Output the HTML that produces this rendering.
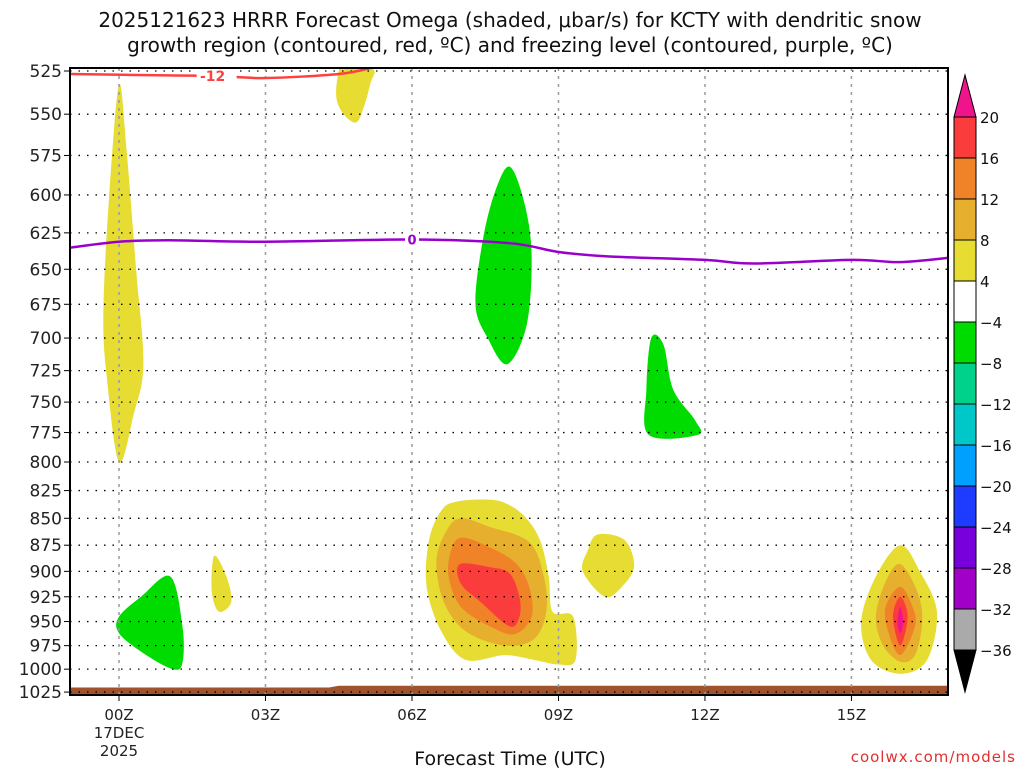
<!DOCTYPE html>
<html><head><meta charset="utf-8"><style>
body{margin:0;background:#fff;}
svg{display:block;font-family:"DejaVu Sans","Liberation Sans",sans-serif;}
</style></head><body>
<svg id="chart" width="1024" height="768" viewBox="0 0 1024 768" xmlns="http://www.w3.org/2000/svg">
<text x="510" y="27" font-size="20" text-anchor="middle" fill="#111">2025121623 HRRR Forecast Omega (shaded, μbar/s) for KCTY with dendritic snow</text>
<text x="510" y="52" font-size="20" text-anchor="middle" fill="#111">growth region (contoured, red, ºC) and freezing level (contoured, purple, ºC)</text>
<g id="fills"></g>
<g id="grid"></g>
<g id="lines"></g>
<g id="axes"></g>
<g id="cbar"></g>
<text x="510" y="765" font-size="19" text-anchor="middle" fill="#111">Forecast Time (UTC)</text>
<text x="1016" y="762" font-size="15" text-anchor="end" fill="#e03030" letter-spacing="1">coolwx.com/models</text>
</svg>
<script>
const pTicks=[525,550,575,600,625,650,675,700,725,750,775,800,825,850,875,900,925,950,975,1000,1025];
const hTicks=[0,3,6,9,12,15];
const hLabels=["00Z","03Z","06Z","09Z","12Z","15Z"];
const cbLevels=[20,16,12,8,4,-4,-8,-12,-16,-20,-24,-28,-32,-36];
const cbColors=["#fa3c3c","#f08228","#e6af2d","#e6dc32","#ffffff","#00dc00","#00d28c","#00c8c8","#00a0ff","#1e3cff","#7800dc","#a000c8","#aaaaaa"];
const blobYellowTall=[[0,533],[0.15,570],[0.35,650],[0.5,720],[0.3,760],[0,800],[-0.25,730],[-0.32,680],[-0.2,600]];
const blobYellowTop=[[4.5,525],[4.45,540],[4.6,550],[4.85,555],[5.0,547],[5.15,532],[5.2,524],[4.6,524]];
const blobGreen08=[[8.0,582],[8.3,605],[8.45,640],[8.35,690],[7.95,720],[7.55,700],[7.3,675],[7.45,630],[7.7,598]];
const blobGreen11=[[10.9,700],[11.15,705],[11.35,740],[11.8,765],[11.85,777],[10.85,777],[10.8,740]];
const blobYellow02=[[1.95,885],[2.2,905],[2.3,930],[2.05,940],[1.9,920]];
const blobGreen01=[[0,945],[0.45,925],[1.05,905],[1.3,955],[1.3,993],[1.1,1000],[0.5,983],[0,962]];
const blob07Y=[[6.6,843],[6.9,835],[7.5,833],[7.9,836],[8.3,848],[8.62,870],[8.8,905],[8.88,940],[9.3,945],[9.35,990],[9.0,995],[8.5,990],[7.9,985],[7.1,990],[6.6,960],[6.3,915],[6.35,870]];
const blob07D=[[7.0,850],[7.6,858],[8.4,872],[8.7,905],[8.75,940],[8.5,968],[7.9,975],[7.1,960],[6.65,930],[6.5,890],[6.7,862]];
const blob07O=[[7.0,868],[7.5,875],[8.1,891],[8.4,915],[8.45,945],[8.1,963],[7.6,955],[7.0,935],[6.75,905],[6.8,880]];
const blob07R=[[6.98,893],[7.6,896],[8.0,902],[8.2,925],[8.2,945],[8.0,955],[7.4,930],[7.0,912]];
const blobYellow10=[[10.35,870],[10.55,895],[10.3,915],[9.95,925],[9.5,900],[9.6,880],[9.8,865]];
const blob16Y=[[16.0,875],[16.4,900],[16.75,940],[16.55,990],[16.0,1005],[15.4,990],[15.2,950],[15.5,905]];
const blob16D=[[16.0,893],[16.35,920],[16.45,950],[16.3,985],[16.0,992],[15.65,975],[15.5,945],[15.7,910]];
const blob16O=[[16.0,915],[16.25,935],[16.3,955],[16.0,985],[15.75,960],[15.7,935]];
const blob16R=[[16.0,925],[16.15,945],[16.0,975],[15.85,945]];
const blob16M=[[16.0,935],[16.06,950],[16.0,962],[15.94,950]];
const freezeHours=[-1,0,1,3,6,8,9,10,12,13,15,16,17];
const freezeP=[635,631,630,631,629.5,632,638,641,643.5,646,643.5,645,642];
const dgzHours=[-1,1,2,3,4.5,5.2];
const dgzP=[526.7,527.5,527.8,529,526.7,523];
const sfcHours=[-1,4.3,4.5,17];
const sfcP=[1020,1020,1018,1018];

const X0=70,X1=948,Y0=68,Y1=695;
const x=h=>119+h*48.83;
const y=p=>71+928.3*Math.log(p/525);
const NS="http://www.w3.org/2000/svg";
function mk(tag,attrs,parent){const e=document.createElementNS(NS,tag);for(const k in attrs)e.setAttribute(k,attrs[k]);parent.appendChild(e);return e;}
function smoothPath(pts){const P=pts.map(q=>[x(q[0]),y(q[1])]);const n=P.length;let d="M"+P[0][0]+","+P[0][1];
 for(let i=0;i<n;i++){const p0=P[(i-1+n)%n],p1=P[i],p2=P[(i+1)%n],p3=P[(i+2)%n];
 const c1=[p1[0]+(p2[0]-p0[0])/6,p1[1]+(p2[1]-p0[1])/6],c2=[p2[0]-(p3[0]-p1[0])/6,p2[1]-(p3[1]-p1[1])/6];
 d+=`C${c1[0]},${c1[1]} ${c2[0]},${c2[1]} ${p2[0]},${p2[1]}`;}return d+"Z";}
function smoothLine(hs,ps){const P=hs.map((h,i)=>[x(h),y(ps[i])]);const n=P.length;let d="M"+P[0][0]+","+P[0][1];
 for(let i=0;i<n-1;i++){const p0=P[Math.max(i-1,0)],p1=P[i],p2=P[i+1],p3=P[Math.min(i+2,n-1)];
 const c1=[p1[0]+(p2[0]-p0[0])/6,p1[1]+(p2[1]-p0[1])/6],c2=[p2[0]-(p3[0]-p1[0])/6,p2[1]-(p3[1]-p1[1])/6];
 d+=`C${c1[0]},${c1[1]} ${c2[0]},${c2[1]} ${p2[0]},${p2[1]}`;}return d;}
const svg=document.getElementById('chart');
const defs=mk('defs',{},svg);
const cp=mk('clipPath',{id:'pc'},defs);mk('rect',{x:X0,y:Y0,width:X1-X0,height:Y1-Y0},cp);
const fills=document.getElementById('fills');fills.setAttribute('clip-path','url(#pc)');
const blobs=[[blobYellowTall,"#e6dc32","yellow-tall"],[blobYellowTop,"#e6dc32","yellow-top"],[blobGreen08,"#00dc00","green-08z"],[blobGreen11,"#00dc00","green-11z"],[blobYellow02,"#e6dc32","yellow-02z"],[blobGreen01,"#00dc00","green-01z"],
[blob07Y,"#e6dc32","blob-07z-4"],[blob07D,"#e6af2d","blob-07z-8"],[blob07O,"#f08228","blob-07z-12"],[blob07R,"#fa3c3c","blob-07z-16"],[blobYellow10,"#e6dc32","yellow-10z"],
[blob16Y,"#e6dc32","blob-16z-4"],[blob16D,"#e6af2d","blob-16z-8"],[blob16O,"#f08228","blob-16z-12"],[blob16R,"#fa3c3c","blob-16z-16"],[blob16M,"#f0148c","blob-16z-20"]];
blobs.forEach(b=>{const e=mk('path',{d:smoothPath(b[0]),fill:b[1]},fills);

});
let td="M"+x(sfcHours[0])+","+Y1;sfcHours.forEach((h,i)=>td+="L"+x(h)+","+y(sfcP[i]));td+="L"+x(sfcHours[sfcHours.length-1])+","+Y1+"Z";
const terr=mk('path',{d:td,fill:"#a0522d"},fills);


const grid=document.getElementById('grid');
pTicks.forEach(p=>{const g=mk('line',{x1:X0,x2:X1,y1:y(p),y2:y(p),stroke:"#000","stroke-width":1.3,"stroke-dasharray":"1.5,7"},grid);

});
hTicks.forEach(h=>{const g=mk('line',{x1:x(h),x2:x(h),y1:Y0,y2:Y1,stroke:"#999","stroke-width":1.5,"stroke-dasharray":"3,5"},grid);

});
const lines=document.getElementById('lines');lines.setAttribute('clip-path','url(#pc)');
const fl=mk('path',{d:smoothLine(freezeHours,freezeP),fill:"none",stroke:"#9900cc","stroke-width":2.5},lines);


const dl=mk('path',{d:smoothLine(dgzHours,dgzP),fill:"none",stroke:"#ff4040","stroke-width":2.5},lines);


mk('rect',{x:x(6)-7,y:y(629.5)-8,width:14,height:16,fill:"#fff"},lines);
const flab=mk('text',{x:x(6),y:y(629.5)+5,"font-size":13,"font-weight":"bold","text-anchor":"middle",fill:"#9900cc"},lines);flab.textContent="0";


mk('rect',{x:x(2)-20,y:y(527.8)-8,width:40,height:16,fill:"#fff"},lines);
const dlab=mk('text',{x:x(2)-4,y:y(527.8)+5,"font-size":14,"font-weight":"bold","text-anchor":"middle",fill:"#ff4040"},lines);dlab.textContent="-12";


const ax=document.getElementById('axes');
const fr=mk('rect',{x:X0,y:Y0,width:X1-X0,height:Y1-Y0,fill:"none",stroke:"#000","stroke-width":2},ax);


pTicks.forEach(p=>{mk('line',{x1:X0-6,x2:X0,y1:y(p),y2:y(p),stroke:"#000","stroke-width":1},ax);
const t=mk('text',{x:X0-8,y:y(p)+6,"font-size":17,"text-anchor":"end",fill:"#222"},ax);t.textContent=p;

});
hTicks.forEach((h,i)=>{mk('line',{x1:x(h),x2:x(h),y1:Y1,y2:Y1+6,stroke:"#000"},ax);
const t=mk('text',{x:x(h),y:720,"font-size":15,"text-anchor":"middle",fill:"#222"},ax);t.textContent=hLabels[i];

});
[["17DEC",738],["2025",756]].forEach(a=>{const t=mk('text',{x:x(0),y:a[1],"font-size":15,"text-anchor":"middle",fill:"#222"},ax);t.textContent=a[0];

});
const cb=document.getElementById('cbar');
const cbx=954,cbw=22,cbTop=117,step=41;
const up=mk('polygon',{points:`${cbx},${cbTop} ${cbx+cbw},${cbTop} ${cbx+cbw/2},75`,fill:"#f0148c",stroke:"#000"},cb);


cbColors.forEach((c,i)=>{const r=mk('rect',{x:cbx,y:cbTop+i*step,width:cbw,height:step,fill:c,stroke:"#000","stroke-width":1},cb);

});
const bot=cbTop+cbColors.length*step;
const dn=mk('polygon',{points:`${cbx},${bot} ${cbx+cbw},${bot} ${cbx+cbw/2},692`,fill:"#000",stroke:"#000"},cb);


cbLevels.forEach((v,i)=>{const t=mk('text',{x:980,y:cbTop+i*step+6,"font-size":15,fill:"#111"},cb);t.textContent=v<0?"\u2212"+(-v):String(v);

});
</script>
</body></html>
